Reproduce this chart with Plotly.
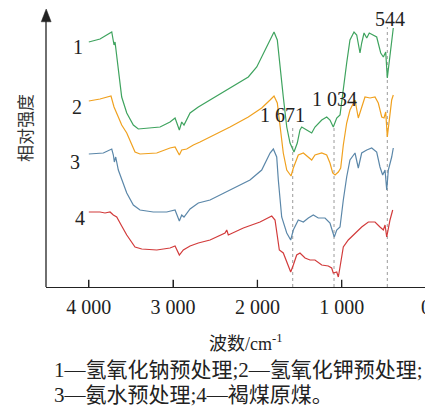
import plotly.graph_objects as go

# ---------------- data (wavenumber cm^-1, relative intensity a.u.) ----------------
wn_1 = [4000, 3867, 3728, 3701, 3689, 3669, 3638, 3610, 3550, 3472, 3413, 3313, 3155, 3037, 2977,
        2926, 2898, 2871, 2799, 2701, 2562, 2325, 2108, 2008, 1910, 1830, 1803, 1764, 1732, 1693,
        1652, 1613, 1566, 1527, 1495, 1474, 1415, 1356, 1317, 1237, 1178, 1139, 1100, 1059, 1020,
        981, 941, 902, 854, 822, 783, 763, 735, 703, 673, 585, 537, 506, 478, 459, 435, 407, 388]
int_1 = [245, 248, 255, 242, 245, 230, 207, 190, 174, 162, 158, 159, 160, 165, 169,
         157, 165, 162, 174, 180, 187, 199, 210, 220, 237, 252, 255, 247, 224, 190,
         160, 144, 135, 144, 157, 160, 157, 154, 160, 167, 170, 167, 160, 169, 172,
         200, 224, 247, 255, 252, 234, 244, 254, 249, 254, 250, 234, 230, 235, 209, 227, 247, 259]

wn_2 = [4000, 3867, 3737, 3701, 3650, 3610, 3550, 3472, 3452, 3393, 3194, 3037, 2977, 2926, 2898,
        2839, 2760, 2681, 2562, 2325, 2108, 1949, 1850, 1803, 1764, 1724, 1693, 1652, 1613, 1601,
        1574, 1515, 1455, 1396, 1356, 1317, 1237, 1178, 1139, 1107, 1079, 1040, 1012, 981, 941,
        902, 842, 803, 763, 724, 664, 605, 566, 525, 498, 478, 459, 435, 407, 388]
int_2 = [186, 188, 191, 180, 170, 162, 154, 140, 135, 133, 134, 139, 140, 132, 137,
         138, 142, 145, 150, 160, 170, 179, 187, 191, 184, 157, 134, 117, 112, 111,
         119, 132, 134, 130, 127, 132, 134, 132, 124, 114, 112, 115, 119, 142, 164,
         177, 187, 169, 180, 190, 189, 190, 184, 170, 169, 175, 150, 167, 187, 192]

wn_3 = [4000, 3828, 3728, 3709, 3697, 3681, 3650, 3610, 3550, 3472, 3393, 3235, 3076, 2977, 2926,
        2898, 2871, 2799, 2701, 2562, 2325, 2088, 1949, 1850, 1811, 1771, 1752, 1712, 1652, 1605,
        1574, 1515, 1455, 1396, 1337, 1278, 1198, 1139, 1107, 1088, 1059, 1020, 981, 941, 902,
        842, 803, 763, 703, 644, 585, 546, 514, 486, 466, 447, 407, 388]
int_3 = [133, 134, 138, 132, 125, 130, 117, 107, 94, 82, 77, 75, 75, 77, 66,
         72, 70, 78, 84, 87, 97, 107, 117, 134, 138, 130, 107, 70, 54, 47,
         57, 67, 65, 69, 72, 69, 69, 64, 55, 50, 57, 60, 87, 110, 127,
         134, 119, 134, 137, 139, 135, 120, 112, 117, 97, 117, 130, 139]

wn_4 = [4000, 3867, 3808, 3748, 3709, 3669, 3610, 3550, 3452, 3372, 3194, 3037, 2977, 2926, 2879,
        2799, 2701, 2562, 2384, 2364, 2345, 2167, 1969, 1830, 1791, 1764, 1740, 1693, 1633, 1605,
        1574, 1534, 1495, 1435, 1376, 1317, 1237, 1159, 1119, 1100, 1059, 1040, 1020, 981, 922,
        842, 763, 684, 605, 546, 506, 486, 466, 427, 395]
int_4 = [75, 75, 74, 75, 72, 70, 61, 52, 40, 38, 37, 39, 41, 32, 37,
         41, 44, 47, 54, 57, 52, 59, 65, 71, 67, 50, 37, 34, 20, 15,
         22, 32, 34, 29, 27, 27, 22, 21, 19, 14, 15, 10, 20, 40, 47,
         54, 60, 65, 65, 60, 57, 62, 50, 67, 77]

series_names = ["1", "2", "3", "4"]
series_colors = ["#3ea35e", "#f0a11f", "#5b87a9", "#d23b3b"]
label_wn = [4128, 4136, 4164, 4104]
label_int = [240, 180, 125, 69]

peak_labels = ["1 671", "1 034", "544"]
peak_lines_wn = [1581, 1091, 459]
peak_lines_top = [162, 162, 260]
peak_label_wn = [1702, 1085, 427]
peak_label_int = [172, 188, 268]

tick_vals = [4000, 3000, 2000, 1000, 0]
tick_text = ["4 000", "3 000", "2 000", "1 000", "0"]

x_title = "波数/cm<sup>-1</sup>"
y_title = "相对强度"
caption_1 = "1—氢氧化钠预处理;2—氢氧化钾预处理;"
caption_2 = "3—氨水预处理;4—褐煤原煤。"

SERIF = "Liberation Serif, Noto Sans CJK SC, serif"
CJK = "Liberation Serif, Noto Sans CJK SC, sans-serif"

fig = go.Figure()

# dashed reference lines
for w, top in zip(peak_lines_wn, peak_lines_top):
    fig.add_trace(go.Scatter(x=[w, w], y=[0, top], mode="lines",
                             line=dict(color="#9a9a9a", width=1, dash="dot"),
                             hoverinfo="skip", showlegend=False))

for wx, iy, col in zip([wn_1, wn_2, wn_3, wn_4], [int_1, int_2, int_3, int_4], series_colors):
    fig.add_trace(go.Scatter(x=wx, y=iy, mode="lines",
                             line=dict(color=col, width=1.2),
                             showlegend=False))

annotations = []
for name, lx, ly in zip(series_names, label_wn, label_int):
    annotations.append(dict(x=lx, y=ly, xref="x", yref="y", text=name, showarrow=False,
                            xanchor="center", yanchor="middle",
                            font=dict(family=SERIF, size=20, color="#222")))
for t, lx, ly in zip(peak_labels, peak_label_wn, peak_label_int):
    annotations.append(dict(x=lx, y=ly, xref="x", yref="y", text=t, showarrow=False,
                            xanchor="center", yanchor="middle",
                            font=dict(family=SERIF, size=20, color="#222")))

annotations.append(dict(x=0.526, y=-0.201, xref="paper", yref="paper", text=x_title,
                        xanchor="center", yanchor="middle",
                        showarrow=False, font=dict(family=CJK, size=18, color="#222")))
annotations.append(dict(x=-0.0553, y=0.572, xref="paper", yref="paper", text=y_title,
                        xanchor="center", yanchor="middle",
                        textangle=-90, showarrow=False,
                        font=dict(family="Noto Sans CJK SC", size=17, color="#333")))
annotations.append(dict(x=0.0158, y=-0.2986, xref="paper", yref="paper", text=caption_1,
                        xanchor="left", yanchor="middle", showarrow=False,
                        font=dict(family=CJK, size=21, color="#222")))
annotations.append(dict(x=0.0158, y=-0.3885, xref="paper", yref="paper", text=caption_2,
                        xanchor="left", yanchor="middle", showarrow=False,
                        font=dict(family=CJK, size=21, color="#222")))

shapes = [
    dict(type="line", xref="paper", yref="paper", x0=0, x1=0, y0=0, y1=0.96,
         line=dict(color="#222", width=1.3)),
    dict(type="path", xref="paper", yref="paper",
         path="M -0.0125 0.954 L 0.0005 1.0 L 0.0135 0.954 Z",
         fillcolor="#222", line=dict(color="#222", width=0.5)),
]
# inward tick marks on the x axis, placed at the tick values through the x scale
for v in tick_vals:
    shapes.append(dict(type="line", xref="x", yref="paper", x0=v, x1=v, y0=0, y1=0.026,
                       line=dict(color="#222", width=1.3)))

# the page body adds an 8 px offset, so the figure is 8 px smaller and margins shifted
fig.update_layout(
    width=425, height=400,
    margin=dict(l=38, r=7, t=1, b=121),
    paper_bgcolor="white", plot_bgcolor="white",
    xaxis=dict(range=[4508, 0], showline=True, linecolor="#222", linewidth=1.3,
               ticks="inside", ticklen=7, tickwidth=1.3, tickcolor="#222",
               tickvals=tick_vals, ticktext=tick_text, ticklabelstandoff=2,
               tickfont=dict(family=SERIF, size=20, color="#222"),
               showgrid=False, zeroline=False),
    yaxis=dict(range=[0, 278], visible=False, showgrid=False, zeroline=False),
    annotations=annotations,
    shapes=shapes,
    showlegend=False,
)

fig.write_html("out.html", config={"displayModeBar": False})
